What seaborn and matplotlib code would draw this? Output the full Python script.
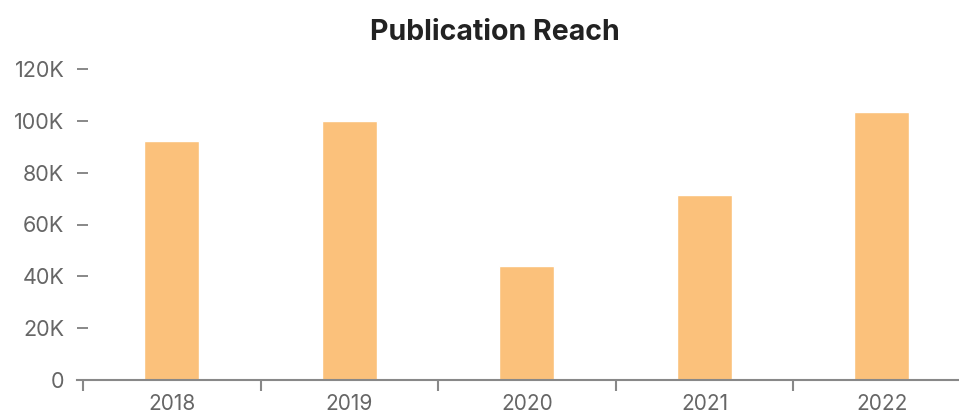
import matplotlib
matplotlib.use("Agg")
import matplotlib.pyplot as plt
from matplotlib.ticker import FuncFormatter, FixedLocator
import seaborn as sns
import pandas as pd

years = ["2018", "2019", "2020", "2021", "2022"]
reach = [92200, 100000, 44000, 71400, 103400]

sns.set_theme(style="white")
plt.rcParams["font.family"] = ["Inter", "DejaVu Sans"]

df = pd.DataFrame({"year": years, "reach": reach})

fig = plt.figure(figsize=(9.59, 4.16), dpi=100)
ax = fig.add_axes([77 / 959, 36 / 416, 882 / 959, 311 / 416])

sns.barplot(data=df, x="year", y="reach", color="#FBC17B", saturation=1,
            width=0.31, ax=ax)

ax.set_ylim(0, 120000)
ax.set_xlim(-0.535, 4.434)
ax.set_yticks(range(0, 120001, 20000))
ax.yaxis.set_major_formatter(FuncFormatter(lambda v, p: "0" if v == 0 else f"{int(v / 1000)}K"))
ax.tick_params(axis="y", left=True, direction="in", length=8, width=1.4, color="#888888",
               labelsize=15.5, labelcolor="#666666", pad=9)

ax.xaxis.set_minor_locator(FixedLocator([i - 0.5 for i in range(len(years))]))
ax.tick_params(axis="x", which="major", bottom=True, length=0, labelsize=15,
               labelcolor="#666666", pad=10)
ax.tick_params(axis="x", which="minor", bottom=True, direction="out", length=8,
               width=1.5, color="#888888")

for s in ["top", "right", "left"]:
    ax.spines[s].set_visible(False)
ax.spines["bottom"].set_color("#888888")
ax.spines["bottom"].set_linewidth(1.5)

ax.set_xlabel("")
ax.set_ylabel("")
ax.grid(False)

fig.text(495 / 959, 1 - 40 / 416, "Publication Reach", ha="center", va="baseline",
         fontsize=20.5, fontweight="bold", color="#222222")

fig.savefig("out.png", dpi=100)
